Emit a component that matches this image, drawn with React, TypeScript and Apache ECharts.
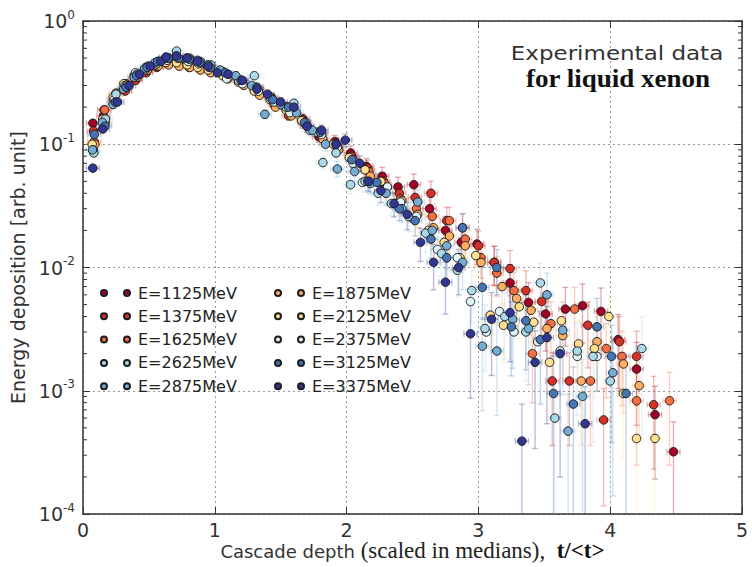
import React, { useEffect, useRef } from "react";
import * as echarts from "echarts";

// [x (t/<t>), energy deposition, relative error]
const e1125 = [
  [0.075, 0.148, 0.04], [0.155, 0.17, 0.04], [0.235, 0.23, 0.04], [0.315, 0.28, 0.04], [0.395, 0.34, 0.04], [0.475, 0.39, 0.04],
  [0.555, 0.43, 0.04], [0.635, 0.46, 0.04], [0.715, 0.47, 0.04], [0.795, 0.46, 0.04], [0.875, 0.44, 0.04], [0.955, 0.41, 0.04],
  [1.07, 0.37, 0.05], [1.19, 0.33, 0.06], [1.31, 0.29, 0.06], [1.43, 0.24, 0.07], [1.55, 0.2, 0.08], [1.67, 0.16, 0.1],
  [1.79, 0.115, 0.1], [1.91, 0.105, 0.12], [2.03, 0.085, 0.14], [2.15, 0.066, 0.16], [2.27, 0.055, 0.18], [2.39, 0.045, 0.2],
  [2.51, 0.047, 0.22], [2.63, 0.03, 0.25], [2.75, 0.02, 0.3], [2.87, 0.016, 0.3], [2.99, 0.0155, 0.32], [3.12, 0.011, 0.35],
  [3.24, 0.0075, 0.4], [3.38, 0.0052, 0.45], [3.51, 0.0042, 0.5], [3.66, 0.0046, 0.5], [3.79, 0.0049, 0.5], [3.93, 0.0044, 0.55],
  [4.06, 0.0026, 0.6], [4.2, 0.0015, 0.65], [4.34, 0.00064, 0.7], [4.48, 0.00032, 0.75],
];
const e1375 = [
  [0.08, 0.128, 0.04], [0.16, 0.19, 0.04], [0.24, 0.22, 0.04], [0.32, 0.27, 0.04], [0.4, 0.33, 0.04], [0.48, 0.38, 0.04],
  [0.56, 0.42, 0.04], [0.64, 0.45, 0.04], [0.72, 0.46, 0.04], [0.8, 0.45, 0.04], [0.88, 0.43, 0.04], [0.96, 0.4, 0.04],
  [1.08, 0.37, 0.05], [1.2, 0.32, 0.06], [1.32, 0.28, 0.06], [1.44, 0.23, 0.07], [1.56, 0.17, 0.08], [1.68, 0.15, 0.1],
  [1.8, 0.12, 0.1], [1.92, 0.1, 0.12], [2.04, 0.08, 0.14], [2.16, 0.064, 0.16], [2.28, 0.05, 0.18], [2.4, 0.04, 0.2],
  [2.52, 0.037, 0.22], [2.64, 0.04, 0.25], [2.76, 0.024, 0.28], [2.88, 0.021, 0.3], [3.0, 0.015, 0.32], [3.12, 0.011, 0.35],
  [3.24, 0.0098, 0.4], [3.36, 0.0065, 0.45], [3.48, 0.0053, 0.5], [3.56, 0.0012, 0.7], [3.69, 0.0012, 0.7], [3.83, 0.0034, 0.55],
  [3.95, 0.00058, 0.8], [4.07, 0.0025, 0.6], [4.2, 0.0019, 0.6], [4.33, 0.00077, 0.7],
];
const e1625 = [
  [0.085, 0.105, 0.04], [0.165, 0.19, 0.04], [0.245, 0.25, 0.04], [0.325, 0.31, 0.04], [0.405, 0.36, 0.04], [0.485, 0.4, 0.04],
  [0.565, 0.43, 0.04], [0.645, 0.45, 0.04], [0.725, 0.44, 0.04], [0.805, 0.42, 0.04], [0.885, 0.41, 0.04], [0.965, 0.39, 0.04],
  [1.09, 0.35, 0.05], [1.21, 0.31, 0.06], [1.33, 0.27, 0.06], [1.45, 0.21, 0.07], [1.57, 0.19, 0.08], [1.69, 0.145, 0.1],
  [1.81, 0.12, 0.1], [1.93, 0.095, 0.12], [2.05, 0.075, 0.14], [2.17, 0.06, 0.16], [2.29, 0.048, 0.18], [2.41, 0.036, 0.2],
  [2.53, 0.03, 0.22], [2.65, 0.026, 0.25], [2.78, 0.024, 0.28], [2.9, 0.017, 0.3], [3.02, 0.012, 0.32], [3.14, 0.009, 0.35],
  [3.27, 0.0065, 0.4], [3.41, 0.002, 0.6], [3.55, 0.0035, 0.5], [3.73, 0.0046, 0.5], [3.85, 0.0012, 0.7], [3.97, 0.0022, 0.6],
  [4.09, 0.0019, 0.6], [4.2, 0.00083, 0.7], [4.45, 0.00083, 0.7],
];
const e1875 = [
  [0.09, 0.1, 0.04], [0.17, 0.15, 0.04], [0.25, 0.26, 0.04], [0.33, 0.3, 0.04], [0.41, 0.35, 0.04], [0.49, 0.4, 0.04],
  [0.57, 0.43, 0.04], [0.65, 0.44, 0.04], [0.73, 0.43, 0.04], [0.81, 0.42, 0.04], [0.89, 0.4, 0.04], [0.97, 0.38, 0.04],
  [1.1, 0.34, 0.05], [1.22, 0.3, 0.06], [1.34, 0.25, 0.06], [1.46, 0.2, 0.07], [1.58, 0.17, 0.08], [1.7, 0.14, 0.1],
  [1.82, 0.11, 0.1], [1.94, 0.09, 0.12], [2.06, 0.072, 0.14], [2.18, 0.055, 0.16], [2.3, 0.044, 0.18], [2.42, 0.035, 0.2],
  [2.54, 0.027, 0.22], [2.66, 0.021, 0.25], [2.78, 0.018, 0.28], [2.9, 0.015, 0.3], [3.02, 0.011, 0.32], [3.18, 0.007, 0.38],
  [3.29, 0.0056, 0.4], [3.4, 0.0045, 0.45], [3.52, 0.0032, 0.5], [3.64, 0.0028, 0.55], [3.78, 0.0012, 0.7], [3.9, 0.0025, 0.6],
  [4.1, 0.00165, 0.6], [4.22, 0.0011, 0.65],
];
const e2125 = [
  [0.07, 0.1, 0.04], [0.15, 0.16, 0.04], [0.23, 0.24, 0.04], [0.31, 0.31, 0.04], [0.39, 0.36, 0.04], [0.47, 0.4, 0.04],
  [0.55, 0.44, 0.04], [0.63, 0.46, 0.04], [0.71, 0.46, 0.04], [0.79, 0.44, 0.04], [0.87, 0.42, 0.04], [0.95, 0.4, 0.04],
  [1.06, 0.36, 0.05], [1.18, 0.32, 0.06], [1.3, 0.27, 0.06], [1.42, 0.23, 0.07], [1.54, 0.19, 0.08], [1.66, 0.155, 0.1],
  [1.78, 0.125, 0.1], [1.9, 0.1, 0.12], [2.02, 0.078, 0.14], [2.14, 0.062, 0.16], [2.26, 0.05, 0.18], [2.38, 0.033, 0.2],
  [2.5, 0.025, 0.22], [2.62, 0.02, 0.25], [2.74, 0.016, 0.28], [2.86, 0.012, 0.3], [2.98, 0.0125, 0.32], [3.09, 0.0041, 0.45],
  [3.19, 0.0034, 0.5], [3.31, 0.0048, 0.45], [3.42, 0.0036, 0.5], [3.54, 0.0017, 0.6], [3.63, 0.0037, 0.5], [3.76, 0.0024, 0.55],
  [3.88, 0.0022, 0.6], [3.99, 0.004, 0.5], [4.1, 0.00095, 0.7], [4.2, 0.00041, 0.8], [4.34, 0.00041, 0.8],
];
const e2375 = [
  [0.078, 0.09, 0.04], [0.158, 0.15, 0.04], [0.238, 0.23, 0.04], [0.318, 0.3, 0.04], [0.398, 0.38, 0.04], [0.478, 0.42, 0.04],
  [0.558, 0.45, 0.04], [0.638, 0.48, 0.04], [0.718, 0.5, 0.04], [0.798, 0.47, 0.04], [0.878, 0.45, 0.04], [0.958, 0.42, 0.04],
  [1.09, 0.34, 0.05], [1.21, 0.31, 0.06], [1.33, 0.27, 0.06], [1.45, 0.22, 0.07], [1.57, 0.18, 0.08], [1.69, 0.15, 0.1],
  [1.81, 0.12, 0.1], [1.93, 0.095, 0.12], [2.05, 0.07, 0.14], [2.12, 0.049, 0.16], [2.31, 0.045, 0.18], [2.41, 0.034, 0.2],
  [2.53, 0.026, 0.22], [2.69, 0.014, 0.3], [2.84, 0.012, 0.32], [2.94, 0.0053, 0.4], [3.06, 0.003, 0.5], [3.16, 0.0044, 0.45],
  [3.27, 0.003, 0.5], [3.45, 0.0025, 0.6], [3.62, 0.0021, 0.65], [3.75, 0.0019, 0.7], [3.9, 0.0019, 0.7],
];
const e2625 = [
  [0.082, 0.085, 0.04], [0.17, 0.16, 0.04], [0.25, 0.255, 0.04], [0.33, 0.3, 0.04], [0.41, 0.37, 0.04], [0.49, 0.43, 0.04],
  [0.57, 0.47, 0.04], [0.65, 0.5, 0.04], [0.71, 0.57, 0.04], [0.81, 0.5, 0.04], [0.89, 0.47, 0.04], [0.97, 0.44, 0.04],
  [1.06, 0.39, 0.05], [1.18, 0.33, 0.06], [1.3, 0.36, 0.06], [1.42, 0.24, 0.07], [1.54, 0.2, 0.08], [1.6, 0.215, 0.1],
  [1.72, 0.13, 0.1], [1.82, 0.071, 0.12], [1.92, 0.085, 0.14], [2.03, 0.047, 0.16], [2.14, 0.05, 0.18], [2.24, 0.04, 0.2],
  [2.34, 0.033, 0.2], [2.47, 0.026, 0.25], [2.6, 0.019, 0.3], [2.72, 0.013, 0.35], [2.84, 0.0095, 0.4], [2.95, 0.0065, 0.45],
  [3.05, 0.0032, 0.55], [3.2, 0.004, 0.55], [3.36, 0.003, 0.6], [3.47, 0.0075, 0.45], [3.58, 0.0006, 1.0], [3.75, 0.0021, 0.7],
  [3.87, 0.0019, 0.8], [4.0, 0.0012, 0.9], [4.24, 0.0022, 0.8],
];
const e2875 = [
  [0.072, 0.09, 0.04], [0.148, 0.15, 0.04], [0.228, 0.21, 0.04], [0.308, 0.28, 0.04], [0.388, 0.35, 0.04], [0.468, 0.41, 0.04],
  [0.548, 0.46, 0.04], [0.628, 0.5, 0.04], [0.708, 0.52, 0.04], [0.788, 0.5, 0.04], [0.868, 0.48, 0.04], [0.948, 0.44, 0.04],
  [1.04, 0.4, 0.05], [1.16, 0.36, 0.06], [1.28, 0.3, 0.06], [1.38, 0.175, 0.08], [1.5, 0.21, 0.08], [1.62, 0.18, 0.1],
  [1.74, 0.13, 0.1], [1.84, 0.1, 0.12], [1.93, 0.063, 0.14], [2.06, 0.06, 0.16], [2.18, 0.048, 0.18], [2.3, 0.04, 0.2],
  [2.42, 0.03, 0.22], [2.54, 0.034, 0.25], [2.65, 0.02, 0.3], [2.76, 0.015, 0.35], [2.88, 0.011, 0.4], [3.03, 0.0023, 0.7],
  [3.14, 0.0021, 0.7], [3.26, 0.0038, 0.6], [3.38, 0.0032, 0.65], [3.52, 0.006, 0.5], [3.64, 0.0031, 0.7], [3.68, 0.00047, 1.0],
  [3.79, 0.0009, 1.0], [4.02, 0.0014, 0.9],
];
const e3125 = [
  [0.086, 0.12, 0.04], [0.166, 0.14, 0.04], [0.246, 0.22, 0.04], [0.326, 0.29, 0.04], [0.406, 0.36, 0.04], [0.486, 0.42, 0.04],
  [0.566, 0.47, 0.04], [0.646, 0.5, 0.04], [0.726, 0.5, 0.04], [0.806, 0.49, 0.04], [0.886, 0.46, 0.04], [0.966, 0.42, 0.04],
  [1.08, 0.38, 0.05], [1.2, 0.33, 0.06], [1.32, 0.29, 0.06], [1.44, 0.23, 0.07], [1.56, 0.2, 0.08], [1.68, 0.15, 0.1],
  [1.8, 0.125, 0.1], [1.92, 0.1, 0.12], [2.04, 0.075, 0.14], [2.16, 0.05, 0.16], [2.23, 0.049, 0.18], [2.4, 0.03, 0.2],
  [2.52, 0.024, 0.25], [2.64, 0.017, 0.3], [2.76, 0.012, 0.35], [2.88, 0.021, 0.3], [3.03, 0.0069, 0.45], [3.14, 0.01, 0.4],
  [3.25, 0.0033, 0.6], [3.36, 0.0037, 0.6], [3.47, 0.0026, 0.7], [3.57, 0.00095, 1.0], [3.72, 0.00078, 1.0], [3.9, 0.0033, 0.7],
  [4.01, 0.0019, 0.8], [4.12, 0.00095, 1.0],
];
const e3375 = [
  [0.075, 0.064, 0.05], [0.15, 0.133, 0.04], [0.26, 0.22, 0.04], [0.35, 0.3, 0.04], [0.43, 0.37, 0.04], [0.51, 0.43, 0.04],
  [0.59, 0.47, 0.04], [0.63, 0.51, 0.04], [0.71, 0.52, 0.04], [0.79, 0.5, 0.04], [0.87, 0.47, 0.04], [0.95, 0.43, 0.04],
  [1.02, 0.38, 0.05], [1.1, 0.37, 0.05], [1.21, 0.33, 0.06], [1.32, 0.28, 0.06], [1.4, 0.255, 0.07], [1.5, 0.22, 0.08],
  [1.6, 0.2, 0.08], [1.7, 0.14, 0.1], [1.81, 0.13, 0.1], [1.92, 0.1, 0.12], [1.99, 0.108, 0.12], [2.1, 0.07, 0.15],
  [2.17, 0.05, 0.18], [2.26, 0.042, 0.2], [2.36, 0.033, 0.22], [2.46, 0.027, 0.25], [2.56, 0.016, 0.3], [2.66, 0.011, 0.4],
  [2.75, 0.0076, 0.45], [2.85, 0.01, 0.4], [2.94, 0.0029, 0.7], [3.1, 0.0038, 0.65], [3.24, 0.0043, 0.6], [3.33, 0.00039, 1.0],
  [3.43, 0.0017, 0.8], [3.52, 0.0027, 0.8], [3.62, 0.002, 0.9], [3.81, 0.00054, 1.0],
];

const seriesNames = [
  "E=1125MeV", "E=1375MeV", "E=1625MeV", "E=1875MeV", "E=2125MeV",
  "E=2375MeV", "E=2625MeV", "E=2875MeV", "E=3125MeV", "E=3375MeV",
];
const seriesColors = [
  "#a50026", "#d73027", "#f46d43", "#fdae61", "#fee090",
  "#e0f3f8", "#abd9e9", "#74add1", "#4575b4", "#313695",
];
const seriesData = [e1125, e1375, e1625, e1875, e2125, e2375, e2625, e2875, e3125, e3375];
const legendCol1 = ["E=1125MeV", "E=1375MeV", "E=1625MeV", "E=2625MeV", "E=2875MeV"];
const legendCol2 = ["E=1875MeV", "E=2125MeV", "E=2375MeV", "E=3125MeV", "E=3375MeV"];
const xMin = 0, xMax = 5, xStep = 1;
const yMin = 1e-4, yMax = 1;
const minorMultipliers = [2, 3, 4, 5, 6, 7, 8, 9];
const decades = [1e-4, 1e-3, 1e-2, 1e-1];

const rgba = (hex: string, a: number) => {
  const n = parseInt(hex.slice(1), 16);
  return `rgba(${(n >> 16) & 255},${(n >> 8) & 255},${n & 255},${a})`;
};

const frameColor = "#333";

export default function App() {
  const ref = useRef<HTMLDivElement>(null);
  useEffect(() => {
    if (!ref.current) return;
    const chart = echarts.init(ref.current, null, { renderer: "svg" });

    const errSeries = seriesData.map((data, i) => ({
      type: "custom",
      name: seriesNames[i] + " err",
      xAxisIndex: 0,
      yAxisIndex: 0,
      data,
      encode: { x: 0, y: 1 },
      clip: true,
      silent: true,
      z: 1,
      renderItem: (params: any, api: any) => {
        const x = api.value(0), y = api.value(1), e = api.value(2);
        const hi = Math.min(y * (1 + e), yMax);
        const lo = Math.max(y * (1 - e), yMin);
        const c = api.coord([x, y]);
        const pHi = api.coord([x, hi]);
        const pLo = api.coord([x, lo]);
        const pL = api.coord([x - 0.05, y]);
        const pR = api.coord([x + 0.05, y]);
        const cap = 3;
        const style = { stroke: rgba(seriesColors[i], 0.32), lineWidth: 1.4, fill: "none" };
        const children: any[] = [
          { type: "line", shape: { x1: c[0], y1: pHi[1], x2: c[0], y2: pLo[1] }, style },
          { type: "line", shape: { x1: c[0] - cap, y1: pHi[1], x2: c[0] + cap, y2: pHi[1] }, style },
          { type: "line", shape: { x1: pL[0], y1: c[1], x2: pR[0], y2: c[1] }, style },
          { type: "line", shape: { x1: pL[0], y1: c[1] - cap, x2: pL[0], y2: c[1] + cap }, style },
          { type: "line", shape: { x1: pR[0], y1: c[1] - cap, x2: pR[0], y2: c[1] + cap }, style },
        ];
        if (y * (1 - e) > yMin) {
          children.push({ type: "line", shape: { x1: c[0] - cap, y1: pLo[1], x2: c[0] + cap, y2: pLo[1] }, style });
        }
        return { type: "group", children };
      },
    }));

    const scatterSeries = seriesData.map((data, i) => ({
      type: "scatter",
      name: seriesNames[i],
      xAxisIndex: 0,
      yAxisIndex: 0,
      data: data.map((d) => [d[0], d[1]]),
      symbol: "circle",
      symbolSize: 8.5,
      z: 3,
      itemStyle: { color: seriesColors[i], borderColor: "#1e1e1e", borderWidth: 1, opacity: 1 },
    }));

    const minorVals: number[][] = [];
    decades.forEach((d) => minorMultipliers.forEach((m) => minorVals.push([xMin, d * m])));

    const minorSeries = {
      type: "custom",
      name: "minor ticks",
      xAxisIndex: 0,
      yAxisIndex: 0,
      data: minorVals,
      encode: { x: 0, y: 1 },
      silent: true,
      z: 5,
      renderItem: (params: any, api: any) => {
        const v = api.value(1);
        const p = api.coord([xMin, v]);
        const q = api.coord([xMax, v]);
        const style = { stroke: frameColor, lineWidth: 1 };
        return {
          type: "group",
          children: [
            { type: "line", shape: { x1: p[0], y1: p[1], x2: p[0] + 4, y2: p[1] }, style },
            { type: "line", shape: { x1: q[0] - 4, y1: q[1], x2: q[0], y2: q[1] }, style },
          ],
        };
      },
    };

    const axisLine = { show: true, onZero: false, lineStyle: { color: frameColor, width: 1.5 } };
    const tick = { show: true, inside: true, length: 7, lineStyle: { color: frameColor, width: 1 } };
    const split = { show: true, lineStyle: { type: [2, 3], color: "#9a9a9a", width: 1 } };
    const legendIcon =
      "path://M0,3A3,3,0,1,0,6,3A3,3,0,1,0,0,3ZM23,3A3,3,0,1,0,29,3A3,3,0,1,0,23,3Z";
    const legendCommon = {
      orient: "vertical",
      icon: legendIcon,
      itemWidth: 29,
      itemHeight: 6,
      itemGap: 5.3,
      top: 279,
      selectedMode: false,
      textStyle: {
        fontSize: 16,
        fontFamily: "DejaVu Sans",
        color: "#222",
        lineHeight: 18,
        padding: [0, 0, 0, 3],
      },
    };

    chart.setOption({
      animation: false,
      backgroundColor: "#fff",
      grid: { left: 83, right: 10, top: 21, bottom: 53, containLabel: false, outerBoundsMode: "none" },
      legend: [
        { ...legendCommon, left: 95, data: legendCol1 },
        { ...legendCommon, left: 269, data: legendCol2 },
      ],
      xAxis: [
        {
          type: "value",
          min: xMin,
          max: xMax,
          interval: xStep,
          position: "bottom",
          axisLine,
          axisTick: tick,
          splitLine: split,
          axisLabel: { fontSize: 19, color: "#333", margin: 6, fontFamily: "DejaVu Sans" },
          name: "{a|Cascade depth }{b|(scaled in medians),  }{c|t/<t>}",
          nameLocation: "middle",
          nameGap: 37,
          nameMoveOverlap: false,
          nameTextStyle: {
            lineHeight: 22,
            verticalAlign: "middle",
            rich: {
              a: { fontSize: 18, lineHeight: 22, fontFamily: "DejaVu Sans", color: "#333", verticalAlign: "bottom", padding: [0, 0, 2, 0] },
              b: { fontSize: 23, lineHeight: 22, fontFamily: "Liberation Serif", color: "#222", verticalAlign: "bottom" },
              c: { fontSize: 23, lineHeight: 22, fontFamily: "Liberation Serif", fontWeight: "bold", color: "#111", verticalAlign: "bottom" },
            },
          },
        },
        {
          type: "value",
          min: xMin,
          max: xMax,
          interval: xStep,
          position: "top",
          axisLine,
          axisTick: tick,
          splitLine: { show: false },
          axisLabel: { show: false },
        },
      ],
      yAxis: [
        {
          type: "log",
          logBase: 10,
          min: yMin,
          max: yMax,
          position: "left",
          axisLine,
          axisTick: tick,
          splitLine: split,
          axisLabel: {
            margin: 8,
            formatter: (v: number) => `{b|10}{s|${Math.round(Math.log10(v))}}`,
            rich: {
              b: { fontSize: 19, fontFamily: "DejaVu Sans", color: "#333" },
              s: { fontSize: 12, fontFamily: "DejaVu Sans", color: "#333", padding: [0, 0, 13, 0] },
            },
          },
          name: "Energy deposition [arb. unit]",
          nameLocation: "middle",
          nameGap: 45,
          nameRotate: 90,
          nameTextStyle: { fontSize: 19, fontFamily: "DejaVu Sans", color: "#333" },
        },
        {
          type: "log",
          logBase: 10,
          min: yMin,
          max: yMax,
          position: "right",
          axisLine,
          axisTick: tick,
          splitLine: { show: false },
          axisLabel: { show: false },
        },
      ],
      graphic: [
        {
          type: "text",
          x: 617,
          y: 53,
          scaleX: 1.15,
          style: {
            text: "Experimental data",
            fontSize: 20,
            fontFamily: "DejaVu Sans",
            fill: "#333",
            align: "center",
            verticalAlign: "middle",
          },
        },
        {
          type: "text",
          x: 618,
          y: 79,
          scaleX: 1.08,
          style: {
            text: "for liquid xenon",
            fontSize: 25,
            fontFamily: "Liberation Serif",
            fontWeight: "bold",
            fill: "#111",
            align: "center",
            verticalAlign: "middle",
          },
        },
      ],
      series: [...errSeries, minorSeries, ...scatterSeries],
    });
    return () => chart.dispose();
  }, []);
  return <div ref={ref} style={{ position: "absolute", left: 0, top: 0, width: 752, height: 567 }} />;
}
